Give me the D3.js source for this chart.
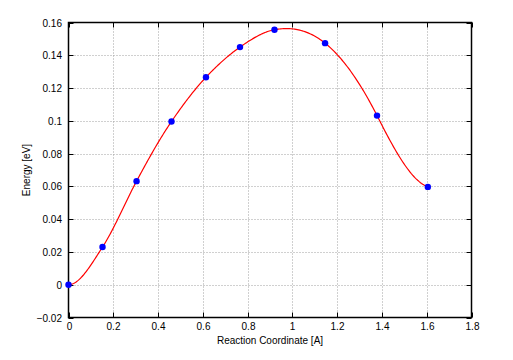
<!DOCTYPE html>
<html><head><meta charset="utf-8">
<script src="https://cdn.jsdelivr.net/npm/d3@7"></script>
<style>body{margin:0;background:#fff}svg{display:block}text{font-family:"Liberation Sans",Arial,sans-serif;font-size:10px;fill:#000}</style>
</head><body>
<svg id="c" width="513" height="360"></svg>
<script>
const pathX = [0, 0.152, 0.304, 0.46, 0.614, 0.766, 0.92, 1.146, 1.378, 1.605];
const energies = [0, 0.023, 0.0632, 0.0996, 0.1266, 0.145, 0.1556, 0.1474, 0.1032, 0.0597];
const slopes = [0, 0.21, 0.255, 0.2, 0.145, 0.095, 0.025, -0.11, -0.27, -0.05];
const xTicks = [0, 0.2, 0.4, 0.6, 0.8, 1, 1.2, 1.4, 1.6, 1.8];
const yTicks = [-0.02, 0, 0.02, 0.04, 0.06, 0.08, 0.1, 0.12, 0.14, 0.16];
const xTitle = "Reaction Coordinate [A]";
const yTitle = "Energy [eV]";

const svg = d3.select("#c");
const L = 68.5, R = 471.5, T = 22.5, B = 317.5;
const x = d3.scaleLinear().domain([0, 1.8]).range([L, R]);
const y = d3.scaleLinear().domain([-0.02, 0.16]).range([B, T]);

// grid
const g = svg.append("g");
g.selectAll("line.gx").data(xTicks.slice(1, -1)).join("line")
  .attr("x1", d => Math.round(x(d)) + 0.5).attr("x2", d => Math.round(x(d)) + 0.5)
  .attr("y1", T).attr("y2", B)
  .attr("stroke", "#a0a0a0").attr("stroke-width", 1).attr("stroke-dasharray", "1,2");
g.selectAll("line.gy").data(yTicks.slice(1, -1)).join("line")
  .attr("y1", d => Math.round(y(d)) + 0.5).attr("y2", d => Math.round(y(d)) + 0.5)
  .attr("x1", L).attr("x2", R)
  .attr("stroke", "#a0a0a0").attr("stroke-width", 1).attr("stroke-dasharray", "1,2");

// ticks (inside, mirrored)
const tk = 5;
xTicks.forEach(d => {
  const px = Math.round(x(d)) + 0.5;
  svg.append("line").attr("x1", px).attr("x2", px).attr("y1", B).attr("y2", B - tk).attr("stroke", "#000");
  svg.append("line").attr("x1", px).attr("x2", px).attr("y1", T).attr("y2", T + tk).attr("stroke", "#000");
  svg.append("text").attr("x", px).attr("y", 330).attr("text-anchor", "middle").text(d3.format("~g")(d));
});
yTicks.forEach(d => {
  const py = Math.round(y(d)) + 0.5;
  svg.append("line").attr("x1", L).attr("x2", L + tk).attr("y1", py).attr("y2", py).attr("stroke", "#000");
  svg.append("line").attr("x1", R).attr("x2", R - tk).attr("y1", py).attr("y2", py).attr("stroke", "#000");
  svg.append("text").attr("x", 62).attr("y", py + 3.5).attr("text-anchor", "end").text(d3.format("~g")(d));
});

// curve: cubic Hermite through energies with slopes
const pts = [];
for (let i = 0; i < pathX.length - 1; i++) {
  const x0 = pathX[i], x1 = pathX[i + 1], h = x1 - x0;
  const y0 = energies[i], y1 = energies[i + 1], m0 = slopes[i], m1 = slopes[i + 1];
  const n = 40;
  for (let k = 0; k <= n; k++) {
    const t = k / n;
    const h00 = 2*t*t*t - 3*t*t + 1, h10 = t*t*t - 2*t*t + t, h01 = -2*t*t*t + 3*t*t, h11 = t*t*t - t*t;
    pts.push([x0 + t*h, h00*y0 + h10*h*m0 + h01*y1 + h11*h*m1]);
  }
}
svg.append("path").datum(pts)
  .attr("d", d3.line().x(d => x(d[0])).y(d => y(d[1])))
  .attr("fill", "none").attr("stroke", "#ff0000").attr("stroke-width", 1.2);

// border
svg.append("rect").attr("x", L).attr("y", T).attr("width", R - L).attr("height", B - T)
  .attr("fill", "none").attr("stroke", "#000").attr("stroke-width", 1.5);

// points
svg.selectAll("circle").data(pathX).join("circle")
  .attr("cx", d => x(d)).attr("cy", (d, i) => y(energies[i])).attr("r", 3.2).attr("fill", "#0000ff");

// titles
svg.append("text").attr("x", 270).attr("y", 344).attr("text-anchor", "middle").text(xTitle);
svg.append("text").attr("transform", "translate(30,170) rotate(-90)").attr("text-anchor", "middle").text(yTitle);
</script>
</body></html>
